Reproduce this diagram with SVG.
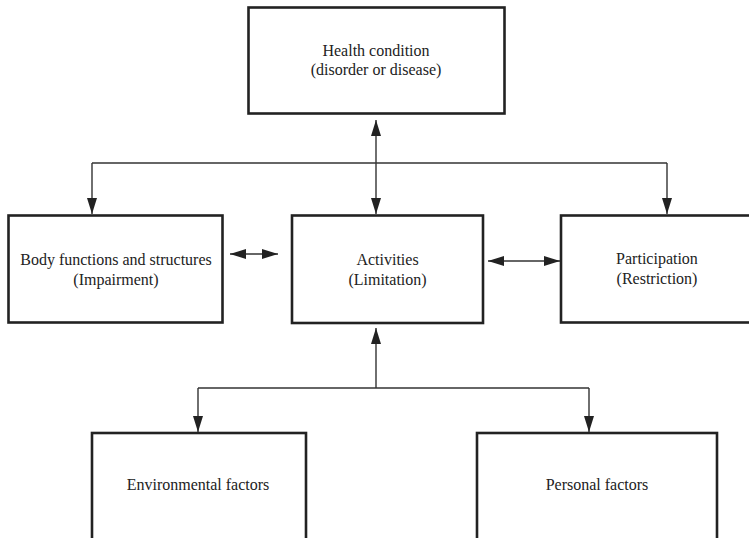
<svg xmlns="http://www.w3.org/2000/svg" width="749" height="538" viewBox="0 0 749 538">
<defs>
<style>
.box{fill:#fff;stroke:#222;stroke-width:2.6}
.lbl{font-family:"Liberation Serif","Times New Roman",serif;font-size:16px;fill:#222;text-anchor:middle}
.ln{fill:none;stroke:#333;stroke-width:1.4}
.arr{marker-end:url(#ah)}
.darr{marker-start:url(#ah);marker-end:url(#ah)}
</style>
<marker id="ah" markerUnits="userSpaceOnUse" markerWidth="16" markerHeight="10" viewBox="0 0 16 10" refX="16" refY="5" orient="auto-start-reverse">
<path d="M0,0 L16,5 L0,10 z" fill="#222"/>
</marker>
</defs>
<rect width="749" height="538" fill="#fff"/>
<g id="connectors">
<line class="ln darr" x1="376" y1="120" x2="376" y2="214"/>
<line class="ln" x1="92" y1="163" x2="667" y2="163"/>
<line class="ln arr" x1="92" y1="163" x2="92" y2="214"/>
<line class="ln arr" x1="667" y1="163" x2="667" y2="214"/>
<line class="ln darr" x1="230" y1="254" x2="278" y2="254"/>
<line class="ln darr" x1="488" y1="261" x2="560" y2="261"/>
<line class="ln arr" x1="376" y1="388" x2="376" y2="328"/>
<line class="ln" x1="198" y1="388" x2="589" y2="388"/>
<line class="ln arr" x1="198" y1="388" x2="198" y2="432"/>
<line class="ln arr" x1="589" y1="388" x2="589" y2="432"/>
</g>
<g id="health">
<rect class="box" x="248.5" y="7.5" width="256" height="106"/>
<text class="lbl" x="376" y="56">Health condition</text>
<text class="lbl" x="376" y="75">(disorder or disease)</text>
</g>
<g id="body">
<rect class="box" x="8.5" y="215.5" width="214" height="107"/>
<text class="lbl" x="116" y="265">Body functions and structures</text>
<text class="lbl" x="116" y="285">(Impairment)</text>
</g>
<g id="activities">
<rect class="box" x="292" y="215.5" width="191" height="107.5"/>
<text class="lbl" x="387.5" y="265">Activities</text>
<text class="lbl" x="387.5" y="285">(Limitation)</text>
</g>
<g id="participation">
<rect class="box" x="561" y="215.5" width="200" height="107"/>
<text class="lbl" x="657" y="264">Participation</text>
<text class="lbl" x="657" y="284">(Restriction)</text>
</g>
<g id="environmental">
<rect class="box" x="92" y="433" width="214" height="120"/>
<text class="lbl" x="198" y="490">Environmental factors</text>
</g>
<g id="personal">
<rect class="box" x="477" y="433" width="240" height="120"/>
<text class="lbl" x="597" y="490">Personal factors</text>
</g>
</svg>
